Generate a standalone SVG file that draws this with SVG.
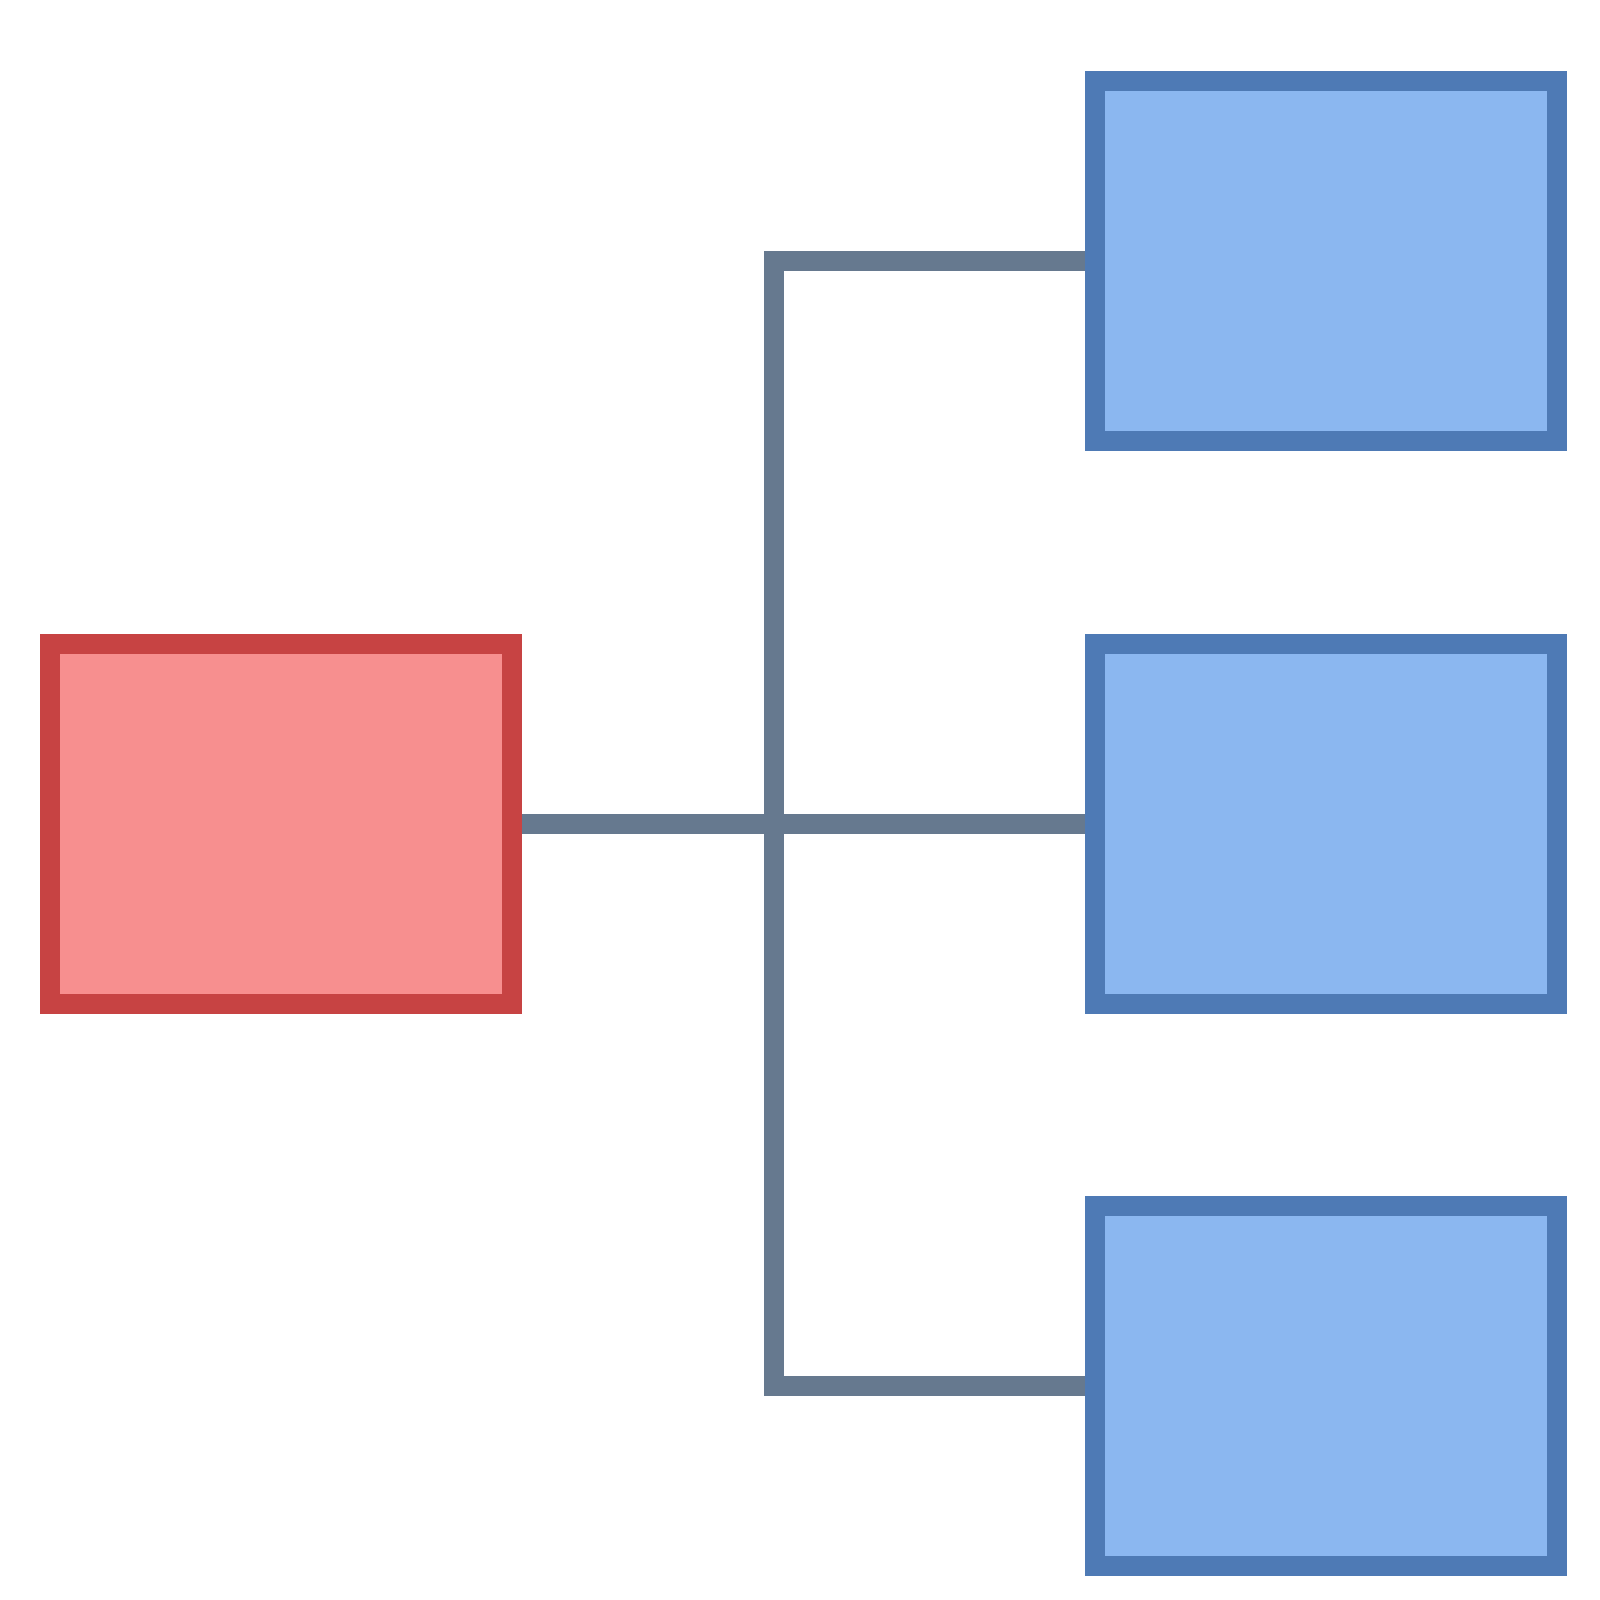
<svg xmlns="http://www.w3.org/2000/svg" width="1600" height="1600" viewBox="0 0 1600 1600">
<style>
.red{fill:#f78f8f;stroke:#c74343;stroke-width:20}
.blue{fill:#8bb7f0;stroke:#4e7ab5;stroke-width:20}
.conn{fill:none;stroke:#66798f;stroke-width:20}
</style>
<rect width="1600" height="1600" fill="#fff"/>
<g id="connectors">
<polyline class="conn" points="1085,261 774,261 774,1386 1085,1386"/>
<line class="conn" x1="522" y1="824" x2="1085" y2="824"/>
</g>
<g id="root"><rect class="red" x="50" y="644" width="462" height="360"/></g>
<g id="child1"><rect class="blue" x="1095" y="81" width="462" height="360"/></g>
<g id="child2"><rect class="blue" x="1095" y="644" width="462" height="360"/></g>
<g id="child3"><rect class="blue" x="1095" y="1206" width="462" height="360"/></g>
</svg>
